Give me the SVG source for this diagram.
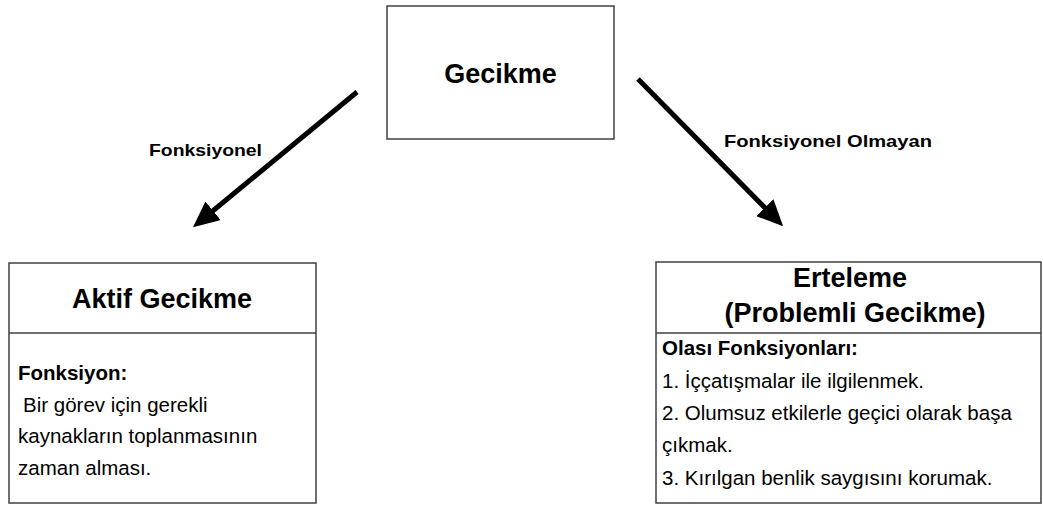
<svg xmlns="http://www.w3.org/2000/svg" width="1043" height="507" viewBox="0 0 1043 507">
<style>
.box{fill:#fff;stroke:#404040;stroke-width:1.5}
.t{font-family:"Liberation Sans",Arial,sans-serif;fill:#000}
.title{font-size:27px;font-weight:bold}
.lbl{font-size:17px;font-weight:bold}
.body{font-size:20.5px}
.b{font-weight:bold}
.arr{stroke:#000;stroke-width:5;fill:none;marker-end:url(#ah)}
</style>
<defs>
<marker id="ah" viewBox="0 0 26 24" refX="13" refY="12" markerWidth="26" markerHeight="24" markerUnits="userSpaceOnUse" orient="auto">
<path d="M0,0 L26,12 L0,24 z" fill="#000"/>
</marker>
</defs>
<rect width="1043" height="507" fill="#fff"/>
<g id="connectors">
<line class="arr" x1="357" y1="92" x2="203" y2="219"/>
<line class="arr" x1="638" y1="79" x2="774" y2="217"/>
<text class="t lbl" x="149" y="156" textLength="113" lengthAdjust="spacingAndGlyphs">Fonksiyonel</text>
<text class="t lbl" x="724" y="147" textLength="208" lengthAdjust="spacingAndGlyphs">Fonksiyonel Olmayan</text>
</g>
<g id="gecikme">
<rect class="box" x="387" y="6" width="227" height="133"/>
<text class="t title" x="500.5" y="83" text-anchor="middle">Gecikme</text>
</g>
<g id="aktif-gecikme">
<rect class="box" x="9" y="263" width="307" height="240"/>
<line x1="9" y1="333" x2="316" y2="333" stroke="#404040" stroke-width="1.5"/>
<text class="t title" x="162" y="308" text-anchor="middle">Aktif Gecikme</text>
<text class="t body b" x="18" y="380">Fonksiyon:</text>
<text class="t body" x="23" y="412">Bir görev için gerekli</text>
<text class="t body" x="18" y="443">kaynakların toplanmasının</text>
<text class="t body" x="18" y="475">zaman alması.</text>
</g>
<g id="erteleme">
<rect class="box" x="656" y="262" width="385" height="241"/>
<line x1="656" y1="333" x2="1041" y2="333" stroke="#404040" stroke-width="1.5"/>
<text class="t title" x="850" y="287" text-anchor="middle">Erteleme</text>
<text class="t title" x="855" y="322" text-anchor="middle">(Problemli Gecikme)</text>
<text class="t body b" x="662" y="355">Olası Fonksiyonları:</text>
<text class="t body" x="662" y="388">1. İççatışmalar ile ilgilenmek.</text>
<text class="t body" x="662" y="420">2. Olumsuz etkilerle geçici olarak başa</text>
<text class="t body" x="662" y="452">çıkmak.</text>
<text class="t body" x="662" y="485">3. Kırılgan benlik saygısını korumak.</text>
</g>
</svg>
